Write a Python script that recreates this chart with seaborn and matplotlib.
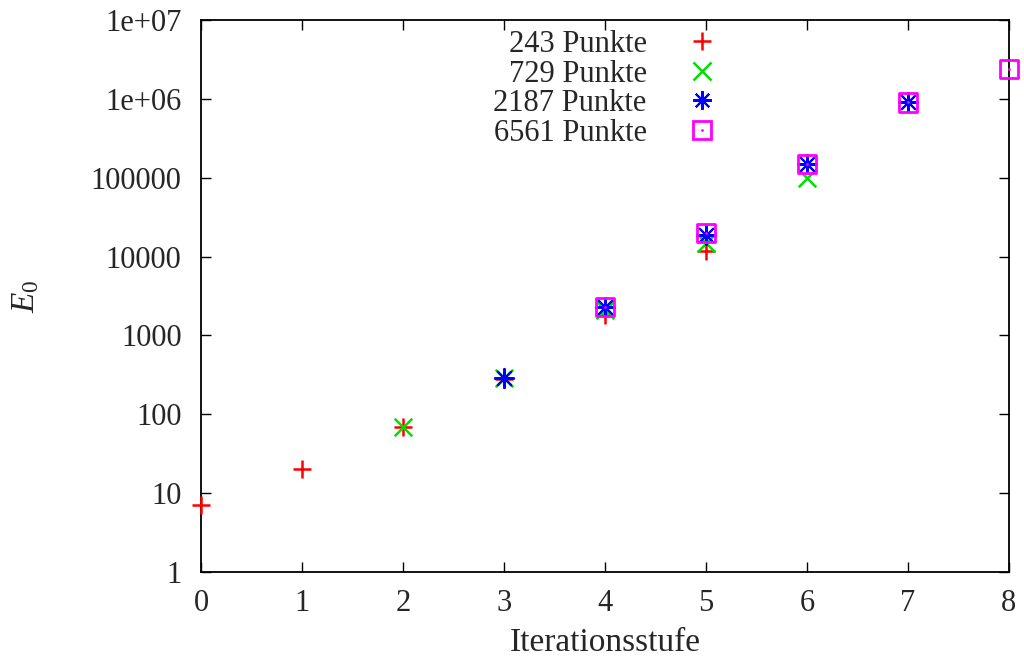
import matplotlib
matplotlib.use("Agg")
import matplotlib.pyplot as plt
import seaborn as sns
import pandas as pd
from matplotlib.legend_handler import HandlerTuple
from matplotlib.lines import Line2D

# ---- data ----
x_243 = [0, 1, 2, 3, 4, 5]
e_243 = [7, 20, 70, 280, 1800, 11700]
x_729 = [2, 3, 4, 5, 6]
e_729 = [70, 290, 2100, 15000, 100000]
x_2187 = [3, 4, 5, 6, 7]
e_2187 = [290, 2300, 19000, 150000, 900000]
x_6561 = [4, 5, 6, 7, 8]
e_6561 = [2300, 20000, 150000, 900000, 2400000]
series_names = ["243 Punkte", "729 Punkte", "2187 Punkte", "6561 Punkte"]
x_ticks = [0, 1, 2, 3, 4, 5, 6, 7, 8]
y_ticks = [1, 10, 100, 1000, 10000, 100000, 1e6, 1e7]
y_ticklabels = ["1", "10", "100", "1000", "10000", "100000", "1e+06", "1e+07"]

sns.set_theme(style="white")
plt.rcParams['font.family'] = ['Liberation Serif', 'DejaVu Serif']
plt.rcParams['mathtext.fontset'] = 'custom'
plt.rcParams['mathtext.it'] = 'Liberation Serif:italic'
plt.rcParams['mathtext.rm'] = 'Liberation Serif'

fig = plt.figure(figsize=(10.24, 6.57), dpi=100)
ax = fig.add_axes([201/1024, 1-572/657, (1009-201)/1024, (572-20)/657])

df1 = pd.DataFrame({"x": x_243, "E": e_243})
df2 = pd.DataFrame({"x": x_729, "E": e_729})
df3 = pd.DataFrame({"x": x_2187, "E": e_2187})
df4 = pd.DataFrame({"x": x_6561, "E": e_6561})

RED, GREEN, BLUE, MAG = "#ff0000", "#00e000", "#0000ff", "#ff00ff"

sns.scatterplot(data=df1, x="x", y="E", ax=ax, marker="+", s=165, color=RED,
                linewidth=1.8, clip_on=False, zorder=3, legend=False)
sns.scatterplot(data=df2, x="x", y="E", ax=ax, marker="x", s=160, color=GREEN,
                linewidth=1.8, clip_on=False, zorder=4, legend=False)
sns.scatterplot(data=df3, x="x", y="E", ax=ax, marker=(8, 2, 0), s=190, color=BLUE,
                linewidth=1.5, clip_on=False, zorder=5, legend=False)
sns.scatterplot(data=df4, x="x", y="E", ax=ax, marker="s", s=180, facecolor="none",
                edgecolor=MAG, linewidth=2.0, clip_on=False, zorder=6, legend=False)
sns.scatterplot(data=df4, x="x", y="E", ax=ax, marker="o", s=4, color=MAG,
                linewidth=0, clip_on=False, zorder=7, legend=False)

ax.set_yscale("log")
ax.set_xlim(0, 8)
ax.set_ylim(1, 1e7)
ax.set_xticks(x_ticks)
ax.set_xticklabels([str(v) for v in x_ticks])
ax.set_yticks(y_ticks)
ax.set_yticklabels(y_ticklabels)
ax.minorticks_off()
ax.tick_params(axis="both", which="major", direction="in", length=7, width=1,
               color="black", labelsize=22, pad=12, top=True, right=True,
               bottom=True, left=True)
ax.tick_params(axis="y", pad=14)
for sp in ax.spines.values():
    sp.set_visible(True)
    sp.set_color("black")
    sp.set_linewidth(1.3)

ax.set_xlabel("Iterationsstufe", fontsize=24, labelpad=7)
ax.set_ylabel("$E_0$", fontsize=24, labelpad=4)
ax.yaxis.set_label_coords(-0.198, 0.5)
ax.grid(False)

h1 = Line2D([], [], linestyle="none", marker="+", markersize=13, mew=1.8, color=RED)
h2 = Line2D([], [], linestyle="none", marker="x", markersize=12.5, mew=1.8, color=GREEN)
h3 = Line2D([], [], linestyle="none", marker=(8, 2, 0), markersize=13.5, mew=1.5, color=BLUE)
h4a = Line2D([], [], linestyle="none", marker="s", markersize=13.5, mew=2.0,
             markerfacecolor="none", markeredgecolor=MAG)
h4b = Line2D([], [], linestyle="none", marker="o", markersize=2, mew=0, color=MAG)
leg = ax.legend([h1, h2, h3, (h4a, h4b)], series_names,
                handler_map={tuple: HandlerTuple(ndivide=1, pad=0)},
                loc="upper right", bbox_to_anchor=(0.648, 0.982), frameon=False,
                markerfirst=False, fontsize=22, handlelength=1.5, handletextpad=1.05,
                labelspacing=0.02, borderaxespad=0, borderpad=0)

fig.savefig("out.png", dpi=100)
